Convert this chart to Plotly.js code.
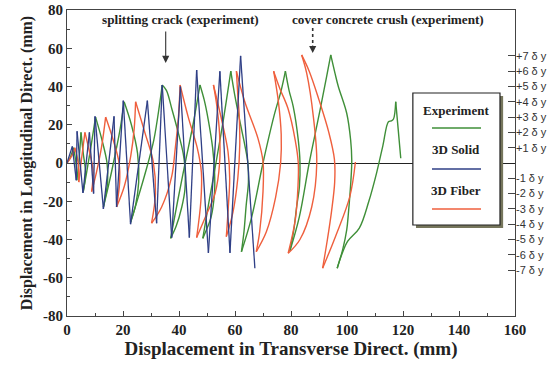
<!DOCTYPE html>
<html>
<head>
<meta charset="utf-8">
<script src="https://cdn.plot.ly/plotly-3.0.1.min.js"></script>
<style>
  html, body { margin: 0; padding: 0; background: #fff; }
  #chart { width: 560px; height: 365px; }
</style>
</head>
<body>
<div id="chart"></div>
<script>
// Orbit of the pier top: transverse vs longitudinal displacement (mm)

// Experiment
const expX = [0, 1.2, 2.3, 3.2, 3.5, 4.2, 5.0, 5.8, 6.6, 5.8, 7.0, 8.5, 10.2,
  12.5, 14.3, 14.5, 13.0, 14.8, 17.0, 19.0, 20.4,
  23.0, 25.2, 25.6, 24.5, 22.7, 25.0, 28.0, 31.0, 33.0, 34.0,
  35.5, 37.5, 39.8, 41.5, 42.1, 42.1, 41.0, 39.0, 37.0,
  39.5, 42.2, 45.0, 47.5,
  49.0, 50.4, 52.0, 52.7, 52.7, 51.5, 49.5, 48.5,
  50.5, 53.2, 56.0, 58.5,
  59.9, 62.0, 63.5, 64.6, 64.8, 64.0, 63.2, 62.3,
  66.0, 70.0, 74.0, 76.5, 78.0,
  79.3, 80.8, 82.6, 83.2, 83.0, 82.0, 81.0, 79.6,
  83.0, 86.5, 90.0, 92.7, 94.2,
  95.7, 96.9, 99.9, 101.3, 101.7, 101.4, 100.5, 99.9, 98.5, 96.5,
  98.1, 100.2, 104.4, 107.8, 110.6, 112.8, 114.8, 115.8, 116.6, 117.4,
  118.3, 119.2];
const expY = [0, 3, 8, 0, -9, 0, 16, 5, -5, -15, -5, 8, 24,
  12, 0, -10, -23, -12, 3, 18, 32,
  20, 5, -10, -22, -31, -20, -5, 12, 30, 40.8,
  38, 28, 15.5, 5, -2, -14, -23, -33, -39.4,
  -20, 0, 20, 40.8,
  33, 23, 8, -5, -15, -28, -36, -39.4,
  -22, 0, 24, 48,
  35.6, 20, 9.4, 0, -10, -22, -36, -46.4,
  -28, 0, 25, 38, 48,
  38, 29.5, 12, 0.7, -12.4, -23, -35, -46,
  -28, 0, 25, 45, 56.5,
  47, 40, 26, 12, 1.6, -9, -26.3, -35, -45, -55,
  -48, -41, -34, -20, -5, 9, 21.6, 22, 23, 32,
  17.3, 2.5];

// 3D Solid model
const solidX = [0, 1.9, 3.3, 3.6, 5.7, 8.0, 9.5, 10.0, 13.0, 16.8, 17.7, 20.1, 22.7,
  28.7, 32.0, 34.0, 37.4, 40.5, 43.7, 46.3, 50.5, 54.6, 58.2, 62.0, 67.1];
const solidY = [0, 8.7, -9, 16.6, -15.7, 16, -16, 24.4, -24, 24.4, -23, 32.6, -32,
  32.6, -31.5, 40.8, -39, 40, -39, 48.6, -47, 48, -47, 56, -55];

// 3D Fiber model
const fiberX = [0, 1.8, 2.8, 4.0, 4.2, 5.0, 6.4,
  8.0, 9.3, 8.8, 10.5, 12.3, 13.8,
  16.5, 18.6, 18.8, 17.7, 20.5, 22.8, 24.0, 24.5,
  27.9, 30.8, 31.6, 30.2, 33.8, 37.4, 38.6, 39.8, 40.4,
  43.3, 46.5, 48.0, 47.8, 46.3,
  49.5, 52.9, 54.5, 54.5, 53.5, 52.3,
  55.1, 57.5, 58.1, 57.5, 56.9,
  59.3, 61.0, 61.7, 61.5, 61.0, 60.5,
  63.5, 68.2, 70.0, 70.0, 68.8, 67.6,
  71.2, 74.5, 76.3, 76.5, 75.5, 73.8,
  76.0, 78.9, 81.5, 82.6, 82.5, 81.5, 79.0,
  83.2, 87.4, 89.2, 88.0, 85.6, 83.8,
  86.5, 90.0, 93.5, 95.5, 95.6, 94.5, 93.0, 91.3,
  96.0, 101.0, 103.0];
const fiberY = [0, 4, 8, 0, -10, 0, 16,
  6, -4, -15, -5, 8, 24,
  12, 0, -10, -23, -12, 4, 18, 32,
  15.5, 0.7, -16, -31.5, -23, -7, 6.8, 24, 40.8,
  24, 8, -5, -20, -39,
  -28, -15.8, 0, 15, 30, 40.8,
  23.4, 6, -8, -25.5, -38.5,
  -25.5, -8, 9.4, 25, 35.6, 48,
  32, 12.9, 0.7, -15, -36, -46.4,
  -36, -18, 0, 15, 32, 48,
  39, 28.6, 12, 0, -12, -30, -47.2,
  -40, -23, 0, 24, 47, 56.5,
  48, 33, 16, 2, -10, -25, -40, -55,
  -38, -17.6, 0.5];

// Ductility levels on the right-hand scale
const deltaY = 8;
const ductility = [7, 6, 5, 4, 3, 2, 1, -1, -2, -3, -4, -5, -6, -7];
const ductilityText = ductility.map(k => (k > 0 ? '+' : '-') + Math.abs(k) + ' \u03b4 y');

const xTicks = [0, 20, 40, 60, 80, 100, 120, 140, 160];
const yTicks = [-80, -60, -40, -20, 0, 20, 40, 60, 80];

const colors = { exp: '#3f8f38', solid: '#2f3f86', fiber: '#ef5f3d' };
const serif = '"Liberation Serif", "Times New Roman", serif';
const sans = '"Liberation Sans", Arial, sans-serif';

// Split a path at its turning points so each half cycle is a smooth
// spline of its own while the peaks stay sharp.
function halfCycles(xs, ys, color, width, shape) {
  const cuts = [0];
  for (let i = 1; i < ys.length - 1; i++) {
    if ((ys[i] - ys[i - 1]) * (ys[i + 1] - ys[i]) < 0) cuts.push(i);
  }
  cuts.push(ys.length - 1);
  const out = [];
  for (let k = 0; k < cuts.length - 1; k++) {
    out.push({
      x: xs.slice(cuts[k], cuts[k + 1] + 1),
      y: ys.slice(cuts[k], cuts[k + 1] + 1),
      mode: 'lines', hoverinfo: 'skip', showlegend: false,
      line: { color: color, width: width, shape: shape, smoothing: 1 }
    });
  }
  return out;
}

const traces = [].concat(
  halfCycles(expX, expY, colors.exp, 1.4, 'spline'),
  halfCycles(fiberX, fiberY, colors.fiber, 1.4, 'spline'),
  halfCycles(solidX, solidY, colors.solid, 1.3, 'linear'),
  [{ x: [], y: [], yaxis: 'y2', mode: 'lines', showlegend: false, hoverinfo: 'skip' }]
);

// legend box geometry (paper fractions)
const lg = { x0: 0.772, x1: 0.9665, y0: 0.2974, y1: 0.7288 };
const lgMid = (lg.x0 + lg.x1) / 2;
const entries = [
  { text: 'Experiment', color: colors.exp, ty: 0.673, ly: 0.6144 },
  { text: '3D Solid', color: colors.solid, ty: 0.5425, ly: 0.4804 },
  { text: '3D Fiber', color: colors.fiber, ty: 0.4085, ly: 0.3497 }
];

const shapes = [
  { type: 'rect', xref: 'paper', yref: 'paper', x0: lg.x0 + 0.007, x1: lg.x1 + 0.007,
    y0: lg.y0 - 0.01, y1: lg.y1 - 0.01, fillcolor: '#76765c', line: { width: 0 } },
  { type: 'rect', xref: 'paper', yref: 'paper', x0: lg.x0, x1: lg.x1, y0: lg.y0, y1: lg.y1,
    fillcolor: '#ffffff', line: { color: '#222', width: 1.2 } },
  // dotted shaft of the cover-crush marker
  { type: 'line', xref: 'x', yref: 'y', x0: 87.75, x1: 87.75, y0: 70.6, y1: 62,
    line: { color: '#333', width: 1.6, dash: 'dot' } }
];
entries.forEach(e => shapes.push({
  type: 'line', xref: 'paper', yref: 'paper', x0: 0.8147, x1: 0.9241, y0: e.ly, y1: e.ly,
  line: { color: e.color, width: 1.4 }
}));

const annotations = [
  { x: 40.4, y: 74.8, xref: 'x', yref: 'y', xanchor: 'center', text: 'splitting crack (experiment)',
    showarrow: false, font: { family: serif, size: 13.2, color: '#222', weight: 'bold' } },
  { x: 114.5, y: 74.8, xref: 'x', yref: 'y', xanchor: 'center', text: 'cover concrete crush (experiment)',
    showarrow: false, font: { family: serif, size: 13.2, color: '#222', weight: 'bold' } },
  { x: 35.25, y: 52.3, xref: 'x', yref: 'y', text: '', showarrow: true, ax: 0, ay: -33,
    arrowhead: 2, arrowsize: 1.3, arrowwidth: 1.1, arrowcolor: '#333' },
  { x: 87.75, y: 57.5, xref: 'x', yref: 'y', text: '', showarrow: true, ax: 0, ay: -9,
    arrowhead: 2, arrowsize: 1.3, arrowwidth: 1.1, arrowcolor: '#333' }
];
entries.forEach(e => annotations.push({
  x: lgMid, y: e.ty, xref: 'paper', yref: 'paper', xanchor: 'center', yanchor: 'middle',
  text: e.text, showarrow: false,
  font: { family: serif, size: 13, color: '#222', weight: 'bold' }
}));

const axisCommon = {
  showgrid: false, showline: true, mirror: true, linecolor: '#444', linewidth: 1,
  ticks: 'inside', ticklen: 5, tickwidth: 1, tickcolor: '#444',
  tickfont: { family: serif, size: 15, color: '#222', weight: 'bold' }
};

const layout = {
  width: 560, height: 365,
  margin: { l: 67, r: 45, t: 10, b: 49 },
  paper_bgcolor: '#fff', plot_bgcolor: '#fff',
  showlegend: false,
  xaxis: Object.assign({}, axisCommon, {
    range: [0, 160], tickvals: xTicks, ticktext: xTicks.map(String), zeroline: false,
    minor: { ticks: 'inside', dtick: 10, ticklen: 3, tickcolor: '#444' },
    title: { text: 'Displacement in Transverse Direct. (mm)', standoff: 4,
      font: { family: serif, size: 19, color: '#222', weight: 'bold' } }
  }),
  yaxis: Object.assign({}, axisCommon, {
    range: [-80, 80], tickvals: yTicks, ticktext: yTicks.map(String),
    zeroline: true, zerolinecolor: '#222', zerolinewidth: 1,
    minor: { ticks: 'inside', dtick: 10, ticklen: 3, tickcolor: '#444' },
    title: { text: 'Displacement in Longitudinal Direct. (mm)', standoff: 6,
      font: { family: serif, size: 16, color: '#222', weight: 'bold' } }
  }),
  yaxis2: {
    overlaying: 'y', side: 'right', range: [-80, 80], showgrid: false, zeroline: false,
    showline: false, ticks: 'inside', ticklen: 7, tickwidth: 1, tickcolor: '#444',
    tickvals: ductility.map(k => k * deltaY), ticktext: ductilityText,
    tickfont: { family: sans, size: 11, color: '#333' }
  },
  shapes: shapes,
  annotations: annotations
};

Plotly.newPlot('chart', traces, layout, { staticPlot: true, displayModeBar: false });
</script>
</body>
</html>
